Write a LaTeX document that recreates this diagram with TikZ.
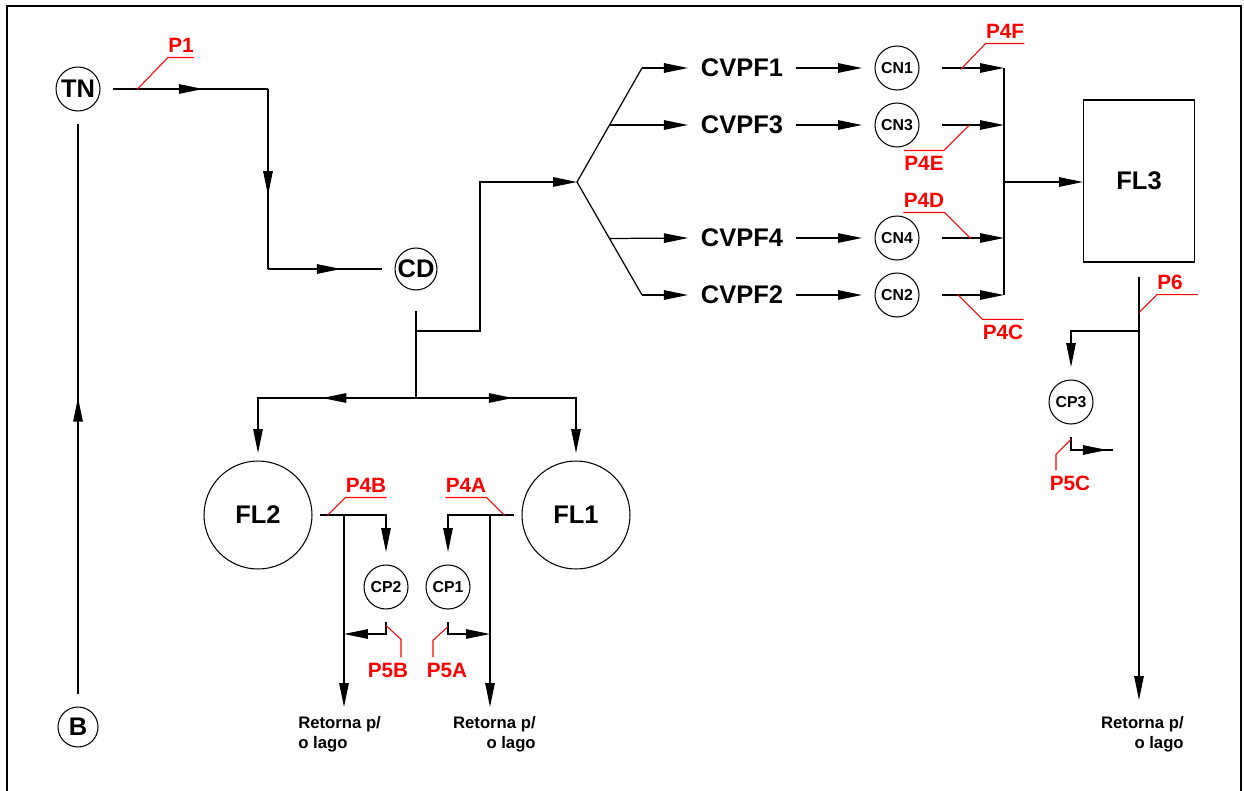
\documentclass[tikz,border=0pt]{standalone}
\usepackage{fontspec}
\setmainfont{Liberation Sans}
\usetikzlibrary{arrows.meta,calc,decorations.markings}

\tikzset{
  pipe/.style={draw, line width=0.7pt},
  midflow/.style={postaction={decorate},
    decoration={markings, mark=at position #1 with {\arrow{>}}}},
  unit/.style={circle, draw, line width=0.6pt, inner sep=0pt,
    minimum size=#1, outer sep=0.26cm},
  big/.style={font=\fontsize{14.5}{17}\selectfont\bfseries},
  small/.style={font=\fontsize{9}{11}\selectfont\bfseries},
  plabel/.style={text=red, inner xsep=0pt, inner ysep=0.1cm,
    font=\fontsize{11.8}{14}\selectfont\bfseries},
  leader/.style={red, line width=0.6pt},
  retorna/.style={inner sep=0pt, font=\fontsize{9.5}{11.4}\selectfont\bfseries},
}

\begin{document}
\begin{tikzpicture}[x=0.02cm, y=-0.02cm, >={Triangle[length=0.48cm,width=0.19cm]}]
\useasboundingbox (0,0) rectangle (1244,791);
\draw[line width=1.6pt] (7,800) -- (7,6) -- (1241,6) -- (1241,800);

% units
\node[unit=0.88cm, big] (tn) at (78,89) {TN};
\node[unit=0.80cm, big] (b) at (78,727) {B};
\node[unit=0.84cm, big] (cd) at (416,269) {CD};
\node[unit=2.16cm, big, outer sep=0.16cm] (fl2) at (258,515) {FL2};
\node[unit=2.16cm, big, outer sep=0.16cm] (fl1) at (576,515) {FL1};
\node[draw, line width=0.6pt, minimum width=2.22cm, minimum height=3.24cm, big] (fl3) at (1139,181) {FL3};
\node[unit=0.88cm, small] (cp2) at (386,587) {CP2};
\node[unit=0.88cm, small] (cp1) at (448,587) {CP1};
\node[unit=0.88cm, small] (cp3) at (1071,402) {CP3};

\node[big, inner sep=0pt, outer sep=0.26cm] (cvpf1) at (742,68) {CVPF1};
\node[big, inner sep=0pt, outer sep=0.26cm] (cvpf3) at (742,125) {CVPF3};
\node[big, inner sep=0pt, outer sep=0.26cm] (cvpf4) at (742,238) {CVPF4};
\node[big, inner sep=0pt, outer sep=0.26cm] (cvpf2) at (742,295) {CVPF2};
\node[unit=0.88cm, small] (cn1) at (897,68) {CN1};
\node[unit=0.88cm, small] (cn3) at (897,125) {CN3};
\node[unit=0.88cm, small] (cn4) at (897,238) {CN4};
\node[unit=0.88cm, small] (cn2) at (897,295) {CN2};

\node[retorna, align=left, anchor=north west] (ret1) at (298,716) {Retorna p/\\o lago};
\node[retorna, align=right, anchor=north east] (ret2) at (536,716) {Retorna p/\\o lago};
\node[retorna, align=right, anchor=north east] (ret3) at (1184,716) {Retorna p/\\o lago};

% turning points
\coordinate (k1) at (268,89);
\coordinate (k2) at (268,269);
\coordinate (j1) at (416,331);
\coordinate (j3) at (480,182);
\coordinate (j4) at (416,398);
\coordinate (sp) at (577,182);
\coordinate (u1) at (642,68);
\coordinate (d2) at (642,295);
\coordinate (col) at (1004,182);
\coordinate (p6j) at (1139,331);
\coordinate (cp3e) at (1113,450);
\coordinate (out3) at (1139,700);
\coordinate (v2) at (344,515);
\coordinate (m2) at (344,634);
\coordinate (out1) at (344,707);
\coordinate (v1) at (490,515);
\coordinate (m1) at (490,634);
\coordinate (out2) at (490,707);

% TN - CD
\draw[pipe, midflow=0.58] (tn.east) -- (k1);
\draw[pipe, midflow=0.59] (k1) -- (k2);
\draw[pipe, midflow=0.64] (k2) -- (cd.west);
\draw[pipe, midflow=0.52] (b.north) -- (tn.south);

% CD out
\draw[pipe, shorten <=0.16cm] (cd.south) -- (j4);
\draw[pipe, ->] (j1) -| (j3) -- (sp);
\draw[pipe, ->, midflow=0.44] (j4) -| (fl2.north);
\draw[pipe, ->, midflow=0.45] (j4) -| (fl1.north);

% CVPF
\draw[pipe] (u1) -- (sp) -- (d2);
\draw[pipe, ->] (u1) -- (cvpf1.west);
\draw[pipe, ->] ($(sp)!0.5!(u1)$) -- (cvpf3.west);
\draw[pipe, ->] ($(sp)!0.5!(d2)$) -- (cvpf4.west);
\draw[pipe, ->] (d2) -- (cvpf2.west);
\draw[pipe, ->] (cvpf1.east) -- (cn1.west);
\draw[pipe, ->] (cvpf3.east) -- (cn3.west);
\draw[pipe, ->] (cvpf4.east) -- (cn4.west);
\draw[pipe, ->] (cvpf2.east) -- (cn2.west);

% CN - FL3
\draw[pipe] (cn1 -| col) -- (cn2 -| col);
\draw[pipe, ->, shorten <=0.2cm] (cn1.east) -- (cn1 -| col);
\draw[pipe, ->, shorten <=0.2cm] (cn3.east) -- (cn3 -| col);
\draw[pipe, ->, shorten <=0.2cm] (cn4.east) -- (cn4 -| col);
\draw[pipe, ->, shorten <=0.2cm] (cn2.east) -- (cn2 -| col);
\draw[pipe, ->] (col) -- (col -| fl3.west);

% FL3 out
\draw[pipe, ->, shorten <=0.28cm] (fl3.south) -- (out3);
\draw[pipe, ->] (p6j) -| (cp3.north);
\draw[pipe, midflow=0.89] (cp3.south) |- (cp3e);

% FL2 / FL1 out
\draw[pipe, ->] (fl2.east) -| (cp2.north);
\draw[pipe, ->] (v2) -- (out1);
\draw[pipe, ->] (cp2.south) |- (m2);
\draw[pipe, ->] (fl1.west) -| (cp1.north);
\draw[pipe, ->] (v1) -- (out2);
\draw[pipe, ->] (cp1.south) |- (m1);

% points
\node[plabel] (lp1) at (181,45) {P1};
\node[plabel] (lp4f) at (1005,31) {P4F};
\node[plabel] (lp4e) at (924,163) {P4E};
\node[plabel] (lp4d) at (924,200) {P4D};
\node[plabel] (lp4c) at (1003,332) {P4C};
\node[plabel] (lp6) at (1170,282) {P6};
\node[plabel] (lp4b) at (366,485) {P4B};
\node[plabel] (lp4a) at (466,485) {P4A};
\node[plabel] (lp5b) at (388,670) {P5B};
\node[plabel] (lp5a) at (447,670) {P5A};
\node[plabel] (lp5c) at (1070,483) {P5C};

\draw[leader] (lp1.south east) -- (lp1.south west) -- ++(-31,32);
\draw[leader] (lp4f.south east) -- (lp4f.south west) -- ++(-25,26);
\draw[leader] (lp4e.north west) -- (lp4e.north east) -- ++(25,-25);
\draw[leader] (lp4d.south west) -- (lp4d.south east) -- ++(26,26);
\draw[leader] (lp4c.north east) -- (lp4c.north west) -- ++(-25,-25);
\draw[leader] ($(lp6.south west)+(41,0)$) -- (lp6.south west) -- ++(-18,18);
\draw[leader] (lp4b.south east) -- (lp4b.south west) -- ++(-18,18);
\draw[leader] (lp4a.south west) -- (lp4a.south east) -- ++(18,18);
\draw[leader] ($(lp5b.north)+(13,0)$) -- ++(0,-18) -- ++(-15,-14);
\draw[leader] ($(lp5a.north)+(-14,0)$) -- ++(0,-17) -- ++(15,-14);
\draw[leader] ($(lp5c.north)+(-14,0)$) -- ++(0,-16) -- ++(15,-15);
\end{tikzpicture}
\end{document}
